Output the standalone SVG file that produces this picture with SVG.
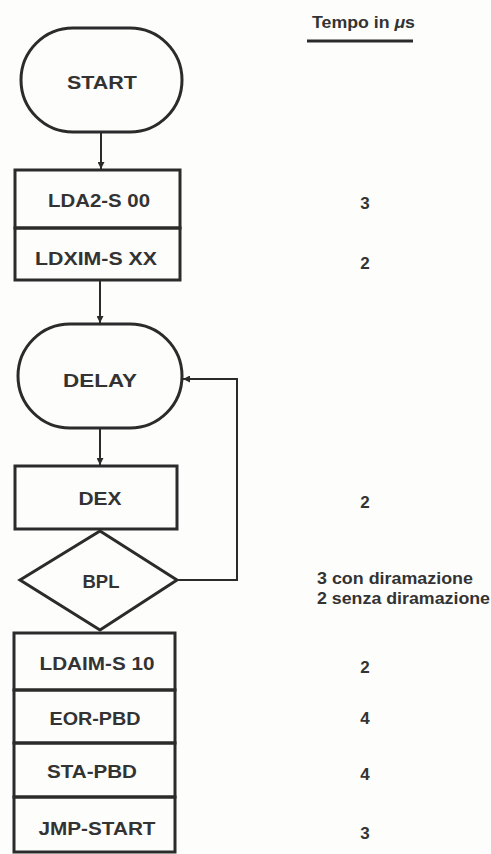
<svg xmlns="http://www.w3.org/2000/svg" width="491" height="854" viewBox="0 0 491 854">
<style>
.shape{fill:none;stroke:#2b2b2b;stroke-width:3}
.conn{fill:none;stroke:#2b2b2b;stroke-width:2}
.t{font-family:"Liberation Sans",Arial,sans-serif;font-weight:bold;fill:#333;text-anchor:middle}
.n{font-size:19px}
.r{font-size:17px}
.l{font-family:"Liberation Sans",Arial,sans-serif;font-weight:bold;fill:#333;font-size:17px}
</style>
<defs>
<marker id="ah" viewBox="0 0 10 10" refX="10" refY="5" markerWidth="7" markerHeight="7" orient="auto" markerUnits="userSpaceOnUse">
<path d="M0,0 L10,5 L0,10 z" fill="#2b2b2b"/>
</marker>
</defs>
<rect width="491" height="854" fill="#fdfdfc"/>
<g id="header">
<text class="l" x="312" y="28" textLength="103" lengthAdjust="spacingAndGlyphs">Tempo in <tspan font-style="italic">μ</tspan>s</text>
<line x1="307" y1="41" x2="413" y2="41" stroke="#2b2b2b" stroke-width="3"/>
</g>
<g id="connectors">
<line class="conn" x1="101" y1="132" x2="101" y2="169" marker-end="url(#ah)"/>
<line class="conn" x1="100" y1="280" x2="100" y2="323" marker-end="url(#ah)"/>
<line class="conn" x1="100" y1="428" x2="100" y2="465" marker-end="url(#ah)"/>
<polyline class="conn" points="177,580 237,580 237,379 183,379" marker-end="url(#ah)"/>
</g>
<g id="start">
<rect class="shape" x="21" y="28" width="161" height="104" rx="52" ry="52"/>
<text class="t n" x="102" y="89" textLength="70" lengthAdjust="spacingAndGlyphs">START</text>
</g>
<g id="lda2">
<rect class="shape" x="15" y="170" width="165" height="58"/>
<text class="t n" x="99" y="207" textLength="102" lengthAdjust="spacingAndGlyphs">LDA2-S 00</text>
<text class="t r" x="365" y="209">3</text>
</g>
<g id="ldxim">
<rect class="shape" x="15" y="228" width="165" height="52"/>
<text class="t n" x="96" y="265" textLength="122" lengthAdjust="spacingAndGlyphs">LDXIM-S XX</text>
<text class="t r" x="365" y="269">2</text>
</g>
<g id="delay">
<rect class="shape" x="18" y="324" width="164" height="104" rx="52" ry="52"/>
<text class="t n" x="100" y="387" textLength="74" lengthAdjust="spacingAndGlyphs">DELAY</text>
</g>
<g id="dex">
<rect class="shape" x="15" y="466" width="162" height="63"/>
<text class="t n" x="100" y="505" textLength="43" lengthAdjust="spacingAndGlyphs">DEX</text>
<text class="t r" x="365" y="508">2</text>
</g>
<g id="bpl">
<polygon class="shape" points="100,531 177,580 100,630 20,580"/>
<text class="t n" x="101" y="588" textLength="37" lengthAdjust="spacingAndGlyphs">BPL</text>
<text class="l" x="317" y="584" textLength="156" lengthAdjust="spacingAndGlyphs">3 con diramazione</text>
<text class="l" x="317" y="604" textLength="173" lengthAdjust="spacingAndGlyphs">2 senza diramazione</text>
</g>
<g id="ldaim">
<rect class="shape" x="14" y="633" width="161" height="57"/>
<text class="t n" x="97" y="670" textLength="115" lengthAdjust="spacingAndGlyphs">LDAIM-S 10</text>
<text class="t r" x="365" y="673">2</text>
</g>
<g id="eor">
<rect class="shape" x="14" y="690" width="161" height="53"/>
<text class="t n" x="95" y="725" textLength="91" lengthAdjust="spacingAndGlyphs">EOR-PBD</text>
<text class="t r" x="365" y="724">4</text>
</g>
<g id="sta">
<rect class="shape" x="14" y="743" width="161" height="54"/>
<text class="t n" x="92" y="778" textLength="90" lengthAdjust="spacingAndGlyphs">STA-PBD</text>
<text class="t r" x="365" y="780">4</text>
</g>
<g id="jmp">
<rect class="shape" x="14" y="797" width="161" height="55"/>
<text class="t n" x="97" y="835" textLength="117" lengthAdjust="spacingAndGlyphs">JMP-START</text>
<text class="t r" x="365" y="839">3</text>
</g>
</svg>
